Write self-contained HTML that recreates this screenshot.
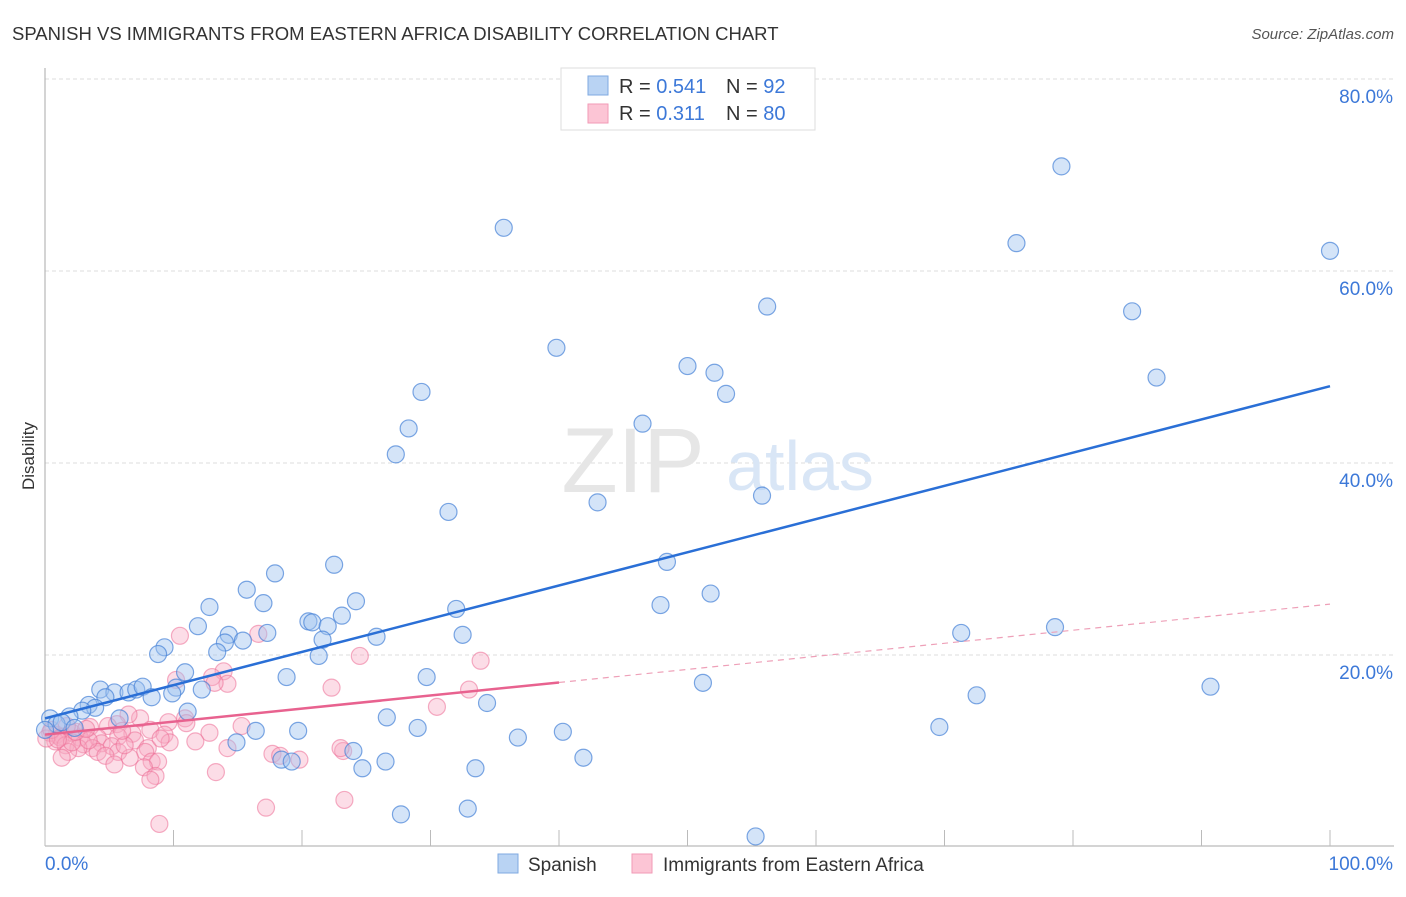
<!DOCTYPE html>
<html><head><meta charset="utf-8">
<style>
body{margin:0;background:#fff;font-family:"Liberation Sans",sans-serif;}
svg text{font-family:"Liberation Sans",sans-serif;}
</style></head>
<body>
<svg id="chart" width="1406" height="892" xmlns="http://www.w3.org/2000/svg">
<text x="12" y="40" font-size="18.5" fill="#333">SPANISH VS IMMIGRANTS FROM EASTERN AFRICA DISABILITY CORRELATION CHART</text>
<text x="1394" y="39" font-size="15" fill="#555" font-style="italic" text-anchor="end">Source: ZipAtlas.com</text>
<text x="0" y="0" transform="translate(34,456) rotate(-90)" font-size="17" fill="#333" text-anchor="middle">Disability</text>
<g id="grid"></g>
<text x="633" y="492" font-size="92" fill="#e6e6e6" font-family="Liberation Serif" text-anchor="middle">ZIP</text>
<text x="800" y="490" font-size="70" fill="#d9e6f6" text-anchor="middle">atlas</text>
<g id="axes"></g>
<g id="pinkpts"></g>
<g id="bluepts"></g>
<g id="lines"></g>
<g>
<rect x="561" y="68" width="254" height="62" fill="#fff" stroke="#ddd"/>
<rect x="588" y="76" width="20" height="19" fill="#b9d3f3" stroke="#7fa9e0"/>
<rect x="588" y="104" width="20" height="19" fill="#fcc5d5" stroke="#f29ab6"/>
<text x="619" y="93" font-size="20" fill="#333">R = <tspan fill="#3c78d8">0.541</tspan></text>
<text x="726" y="93" font-size="20" fill="#333">N = <tspan fill="#3c78d8"> 92</tspan></text>
<text x="619" y="120" font-size="20" fill="#333">R = <tspan fill="#3c78d8"> 0.311</tspan></text>
<text x="726" y="120" font-size="20" fill="#333">N = <tspan fill="#3c78d8">80</tspan></text>
</g>
<g>
<rect x="498" y="854" width="20" height="19" fill="#b9d3f3" stroke="#7fa9e0"/>
<text x="528" y="871" font-size="19" fill="#333">Spanish</text>
<rect x="632" y="854" width="20" height="19" fill="#fcc5d5" stroke="#f29ab6"/>
<text x="663" y="871" font-size="19" fill="#333">Immigrants from Eastern Africa</text>
</g>
</svg>
<script>
const yTicks=[20,40,60,80];
const yTickLabels=["20.0%","40.0%","60.0%","80.0%"];
const xTicks=[0,10,20,30,40,50,60,70,80,90,100];
const spanishX=[35.7,79.1,75.6,100,56.2,84.6,39.8,50.0,52.1,86.5,29.3,53.0,28.3,46.5,27.3,55.8,43.0,31.4,22.5,48.4,17.9,15.7,51.8,17.0,24.2,12.8,47.9,32.0,23.1,20.5,20.8,11.9,22.0,78.6,14.3,17.3,71.3,32.5,25.8,21.6,15.4,14.0,9.3,8.8,13.4,21.3,10.9,18.8,29.7,10.2,51.2,90.7,4.3,5.4,6.5,7.1,7.6,12.2,4.7,8.3,9.9,72.5,3.4,3.9,34.4,2.9,11.1,5.8,26.6,1.9,0.4,0.9,1.3,2.3,0,69.6,29.0,16.4,19.7,40.3,36.8,14.9,24.0,18.4,19.2,26.5,41.9,24.7,33.5,27.7,32.9,55.3];
const spanishY=[64.5,70.9,62.9,62.1,56.3,55.8,52.0,50.1,49.4,48.9,47.4,47.2,43.6,44.1,40.9,36.6,35.9,34.9,29.4,29.7,28.5,26.8,26.4,25.4,25.6,25.0,25.2,24.8,24.1,23.5,23.4,23.0,23.0,22.9,22.1,22.3,22.3,22.1,21.9,21.6,21.5,21.3,20.8,20.1,20.3,19.9,18.2,17.7,17.7,16.6,17.1,16.7,16.4,16.1,16.1,16.4,16.7,16.4,15.6,15.6,16.0,15.8,14.8,14.5,15.0,14.2,14.1,13.4,13.5,13.6,13.4,12.8,13.0,12.4,12.2,12.5,12.4,12.1,12.1,12.0,11.4,10.9,10.0,9.1,8.9,8.9,9.3,8.2,8.2,3.4,4.0,1.1];
const immX=[10.5,16.6,24.5,33.9,13.9,13.0,10.2,14.2,22.3,33.0,13.2,30.5,10.9,7.4,6.5,9.6,15.3,5.6,4.9,3.5,8.2,12.8,6.8,9.3,0.4,0.9,1.4,2.1,2.7,4.1,5.7,7.0,9.7,0.8,1.2,4.4,3.0,3.7,5.2,8.0,1.6,2.6,0.1,14.2,7.8,5.7,1.8,4.1,23.2,17.7,18.3,6.6,4.7,1.3,8.3,5.4,8.8,7.7,13.3,8.6,8.2,23.3,17.2,8.9,19.8,2.1,3.4,6.2,11.7,23.0,0.5,1.0,2.4,3.2,1.7,6.0,9.0,11.0];
const immY=[22.0,22.2,19.9,19.4,18.3,17.7,17.4,17.0,16.6,16.4,17.1,14.6,13.4,13.4,13.8,13.0,12.6,12.8,12.6,12.5,12.2,11.9,11.8,11.7,11.9,11.7,11.5,11.9,11.4,11.4,11.5,11.1,10.9,11.0,11.4,10.8,10.7,10.3,10.5,10.3,10.6,10.3,11.3,10.3,9.9,9.9,9.9,9.9,10.0,9.7,9.5,9.3,9.5,9.3,8.9,8.6,8.9,8.3,7.8,7.4,7.0,4.9,4.1,2.4,9.1,10.9,11.1,10.6,11.0,10.3,12.2,11.2,12.0,12.3,12.6,12.1,11.3,12.9];
const spanishTrend=[13.4,48.0];
const immTrend=[11.7,25.3];
const immSolidEnd=40;

const X=v=>45+v*12.85;
const Y=v=>847-v*9.6;
const NS="http://www.w3.org/2000/svg";
function mk(tag,attrs,parent){const e=document.createElementNS(NS,tag);for(const k in attrs)e.setAttribute(k,attrs[k]);parent.appendChild(e);return e;}
const grid=document.getElementById('grid'),axes=document.getElementById('axes');
yTicks.forEach((t,i)=>{
  const l=mk('line',{x1:45,x2:1394,y1:Y(t),y2:Y(t),stroke:'#ddd','stroke-dasharray':'4,3'},grid);
  
  
  const tx=mk('text',{x:1393,y:Y(t)+24,'font-size':19,fill:'#3c78d8','text-anchor':'end'},axes);
  tx.textContent=yTickLabels[i];
  
  
});
const ax=mk('line',{x1:45,x2:45,y1:68,y2:846,stroke:'#aaa'},axes);


const bx=mk('line',{x1:45,x2:1394,y1:846,y2:846,stroke:'#aaa'},axes);


xTicks.forEach(t=>{
  const l=mk('line',{x1:X(t),x2:X(t),y1:830,y2:846,stroke:'#bbb'},axes);
  
  
});
const xl0=mk('text',{x:45,y:870,'font-size':19,fill:'#3c78d8'},axes);xl0.textContent='0.0%';


const xl1=mk('text',{x:1393,y:870,'font-size':19,fill:'#3c78d8','text-anchor':'end'},axes);xl1.textContent='100.0%';


const pg=document.getElementById('pinkpts');
immX.forEach((x,i)=>{
  const c=mk('circle',{cx:X(x),cy:Y(immY[i]),r:8.5,fill:'rgba(248,170,195,0.4)',stroke:'rgba(236,110,150,0.55)','stroke-width':1.2},pg);
  
  
});
const bg=document.getElementById('bluepts');
spanishX.forEach((x,i)=>{
  const c=mk('circle',{cx:X(x),cy:Y(spanishY[i]),r:8.5,fill:'rgba(160,195,240,0.45)',stroke:'rgba(70,130,215,0.7)','stroke-width':1.2},bg);
  
  
});
const lg=document.getElementById('lines');
const b=mk('line',{x1:X(0),y1:Y(spanishTrend[0]),x2:X(100),y2:Y(spanishTrend[1]),stroke:'#2a6fd6','stroke-width':2.5},lg);


const pm=immTrend[0]+(immTrend[1]-immTrend[0])*immSolidEnd/100;
const p1=mk('line',{x1:X(0),y1:Y(immTrend[0]),x2:X(immSolidEnd),y2:Y(pm),stroke:'#e8628f','stroke-width':2.5},lg);


const p2=mk('line',{x1:X(immSolidEnd),y1:Y(pm),x2:X(100),y2:Y(immTrend[1]),stroke:'#eea0b8','stroke-width':1.2,'stroke-dasharray':'6,5'},lg);


</script>
</body></html>
